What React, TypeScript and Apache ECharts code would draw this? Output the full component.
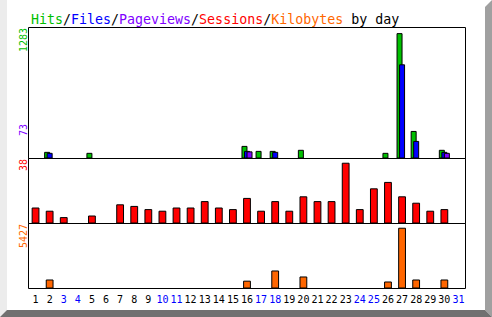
import React, { useEffect, useRef } from "react";
import * as echarts from "echarts";

const days = Array.from({ length: 31 }, (_, i) => String(i + 1));
const weekendDays = ["3", "4", "10", "11", "17", "18", "24", "25", "31"];

const hits = [0, 68, 0, 0, 58, 0, 0, 0, 0, 0, 0, 0, 0, 0, 0, 129, 78, 78, 0, 89, 0, 0, 0, 0, 0, 58, 1283, 282, 0, 89, 0];
const files = [0, 58, 0, 0, 0, 0, 0, 0, 0, 0, 0, 0, 0, 0, 0, 78, 0, 68, 0, 0, 0, 0, 0, 0, 0, 0, 964, 180, 0, 68, 0];
const pageviews = [0, 0, 0, 0, 0, 0, 0, 0, 0, 0, 0, 0, 0, 0, 0, 73, 0, 0, 0, 0, 0, 0, 0, 0, 0, 0, 0, 0, 0, 58, 0];
const sessions = [10, 8, 4, 0, 5, 0, 12, 11, 9, 8, 10, 10, 14, 10, 9, 16, 8, 14, 8, 17, 14, 14, 38, 9, 22, 26, 17, 13, 8, 9, 0];
const kilobytes = [0, 805, 0, 0, 0, 0, 0, 0, 0, 0, 0, 0, 0, 0, 0, 700, 0, 1610, 0, 1073, 0, 0, 0, 0, 0, 626, 5427, 805, 0, 805, 0];

const GREEN = "#00c000";
const BLUE = "#0000ff";
const PURPLE = "#8000ff";
const RED = "#ff0000";
const ORANGE = "#ff6600";
const MONO = '"DejaVu Sans Mono", "Liberation Mono", monospace';

export default function App() {
  const ref = useRef<HTMLDivElement>(null);
  useEffect(() => {
    if (!ref.current) return;
    const chart = echarts.init(ref.current, undefined, { renderer: "svg" });
    const maxHits = Math.max(...hits);
    const maxPages = Math.max(...pageviews);
    const maxSessions = Math.max(...sessions);
    const maxKb = Math.max(...kilobytes);

    const gridBase = { left: 28.5, width: 437, show: true, borderColor: "#000", borderWidth: 1, backgroundColor: "transparent" };
    const barStyle = (c: string) => ({ color: c, borderColor: "#000", borderWidth: 1 });
    const rich = (c: string) => ({ color: c, fontFamily: MONO, fontSize: 13.3, fontWeight: "normal" as const });

    const valueLabel = (text: string, color: string, y: number) => ({
      type: "text",
      x: 23,
      y,
      rotation: Math.PI / 2,
      style: {
        text,
        fill: color,
        font: `10px ${MONO}`,
        textAlign: "right",
        textVerticalAlign: "middle",
        align: "right",
        verticalAlign: "middle",
      },
    });

    chart.setOption({
      animation: false,
      backgroundColor: "#ffffff",
      title: {
        text: "{h|Hits}{s|/}{f|Files}{s|/}{p|Pageviews}{s|/}{v|Sessions}{s|/}{k|Kilobytes}{b| by day}",
        left: 26,
        top: 8,
        textStyle: {
          fontFamily: MONO,
          fontSize: 13.3,
          fontWeight: "normal",
          rich: {
            h: rich(GREEN),
            f: rich(BLUE),
            p: rich(PURPLE),
            v: rich(RED),
            k: rich(ORANGE),
            s: rich("#000"),
            b: rich("#000"),
          },
        },
      },
      grid: [
        { ...gridBase, top: 27.5, height: 131 },
        { ...gridBase, top: 158.5, height: 65 },
        { ...gridBase, top: 223.5, height: 65 },
      ],
      xAxis: [0, 1, 2].map((gi) => ({
        type: "category",
        gridIndex: gi,
        data: days.map((d) => ({ value: d, textStyle: { color: weekendDays.includes(d) ? BLUE : "#000" } })),
        show: gi === 2,
        axisLine: { show: false },
        axisTick: { show: false },
        axisLabel: { interval: 0, fontFamily: MONO, fontSize: 10, margin: 6, color: "#000" },
      })),
      yAxis: [
        { type: "value", gridIndex: 0, show: false, min: 0, max: maxHits / 0.957 },
        { type: "value", gridIndex: 1, show: false, min: 0, max: maxSessions / 0.935 },
        { type: "value", gridIndex: 2, show: false, min: 0, max: maxKb / 0.935 },
      ],
      series: [
        { name: "Hits", type: "bar", xAxisIndex: 0, yAxisIndex: 0, data: hits, barWidth: 6, barGap: "-58%", itemStyle: barStyle(GREEN) },
        { name: "Files", type: "bar", xAxisIndex: 0, yAxisIndex: 0, data: files, barWidth: 6, barGap: "-58%", itemStyle: barStyle(BLUE) },
        { name: "Pageviews", type: "bar", xAxisIndex: 0, yAxisIndex: 0, data: pageviews, barWidth: 6, barGap: "-58%", itemStyle: barStyle(PURPLE) },
        { name: "Sessions", type: "bar", xAxisIndex: 1, yAxisIndex: 1, data: sessions, barWidth: 7.8, itemStyle: barStyle(RED) },
        { name: "Kilobytes", type: "bar", xAxisIndex: 2, yAxisIndex: 2, data: kilobytes, barWidth: 7.8, itemStyle: barStyle(ORANGE) },
      ],
      graphic: [
        { type: "polygon", shape: { points: [[0, 0], [7, 0], [7, 310], [0, 317]] }, style: { fill: "#ececec" }, silent: true },
        { type: "polygon", shape: { points: [[485, 7], [492, 0], [492, 317], [485, 310]] }, style: { fill: "#a0a0a0" }, silent: true },
        { type: "polygon", shape: { points: [[0, 317], [7, 310], [485, 310], [492, 317]] }, style: { fill: "#707070" }, silent: true },
        valueLabel(String(maxHits), GREEN, 28),
        valueLabel(String(maxPages), PURPLE, 124),
        valueLabel(String(maxSessions), RED, 159),
        valueLabel(String(maxKb), ORANGE, 224),
      ],
    });
    return () => chart.dispose();
  }, []);
  return <div ref={ref} style={{ position: "fixed", left: 0, top: 0, width: 492, height: 317 }} />;
}
